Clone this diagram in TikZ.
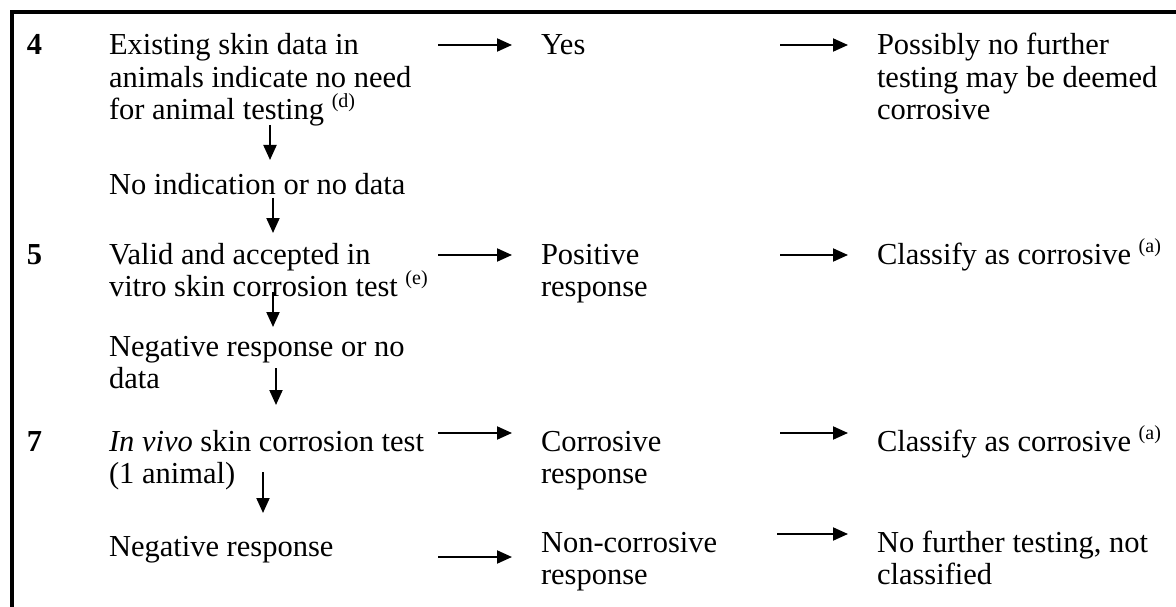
\documentclass[tikz,border=0pt]{standalone}
\usepackage{fontspec}
\setmainfont{Liberation Serif}
\usetikzlibrary{arrows.meta}
\newcommand\supr[1]{\raisebox{12pt}{\fontsize{20}{20}\selectfont #1}}
\begin{document}
\begin{tikzpicture}[x=1pt,y=-1pt,
  txt/.style={anchor=base west, inner sep=0pt, outer sep=0pt, align=left,
    font=\fontsize{30.5}{32.5}\selectfont},
  num/.style={txt, font=\fontsize{30.5}{32.5}\selectfont\bfseries},
  arr/.style={line width=2pt, -{Triangle[length=15pt,width=13pt]}},
  frame/.style={line width=4pt}]
\useasboundingbox (0,0) rectangle (1176,607);
% frame
\draw[frame] (12,607) -- (12,12) -- (1176,12);
% numbers (anchored at baseline of the first line)
\node[num] (n4) at (27,55) {4};
\node[num] (n5) at (27,264) {5};
\node[num] (n7) at (27,451) {7};
% left column (multi-line nodes anchored at baseline of the last line)
\node[txt] (q4) at (109,120) {Existing skin data in\\animals indicate no need\\for animal testing \supr{(d)}};
\node[txt] (noind) at (109,194) {No indication or no data};
\node[txt] (q5) at (109,296.5) {Valid and accepted in\\vitro skin corrosion test \supr{(e)}};
\node[txt] (neg5) at (109,388.5) {Negative response or no\\data};
\node[txt] (q7) at (109,483.5) {\textit{In vivo} skin corrosion test\\(1 animal)};
\node[txt] (neg7) at (109,556) {Negative response};
% middle column
\node[txt] (yes) at (541,55) {Yes};
\node[txt] (pos) at (541,296.5) {Positive\\response};
\node[txt] (corr) at (541,483.5) {Corrosive\\response};
\node[txt] (ncorr) at (541,584.5) {Non-corrosive\\response};
% right column
\node[txt] (r4) at (877,120) {Possibly no further\\testing may be deemed\\corrosive};
\node[txt] (r5) at (877,264) {Classify as corrosive \supr{(a)}};
\node[txt] (r7) at (877,451) {Classify as corrosive \supr{(a)}};
\node[txt] (r8) at (877,584.5) {No further testing, not\\classified};
% arrow coordinates
\coordinate (a4s) at (438,45);  \coordinate (a4e) at (512,45);
\coordinate (b4s) at (780,45);  \coordinate (b4e) at (848,45);
\coordinate (a5s) at (438,255); \coordinate (a5e) at (512,255);
\coordinate (b5s) at (780,255); \coordinate (b5e) at (848,255);
\coordinate (a7s) at (438,433); \coordinate (a7e) at (512,433);
\coordinate (b7s) at (780,433); \coordinate (b7e) at (848,433);
\coordinate (a8s) at (438,557); \coordinate (a8e) at (512,557);
\coordinate (b8s) at (777,534); \coordinate (b8e) at (848,534);
\coordinate (dAs) at (270,125); \coordinate (dAe) at (270,160);
\coordinate (dBs) at (273,198); \coordinate (dBe) at (273,233);
\coordinate (dCs) at (273,292); \coordinate (dCe) at (273,327);
\coordinate (dDs) at (276,368); \coordinate (dDe) at (276,405);
\coordinate (dEs) at (263,472); \coordinate (dEe) at (263,513);
\foreach \p in {a4,b4,a5,b5,a7,b7,a8,b8,dA,dB,dC,dD,dE}
  \draw[arr] (\p s) -- (\p e);
\end{tikzpicture}
\end{document}
